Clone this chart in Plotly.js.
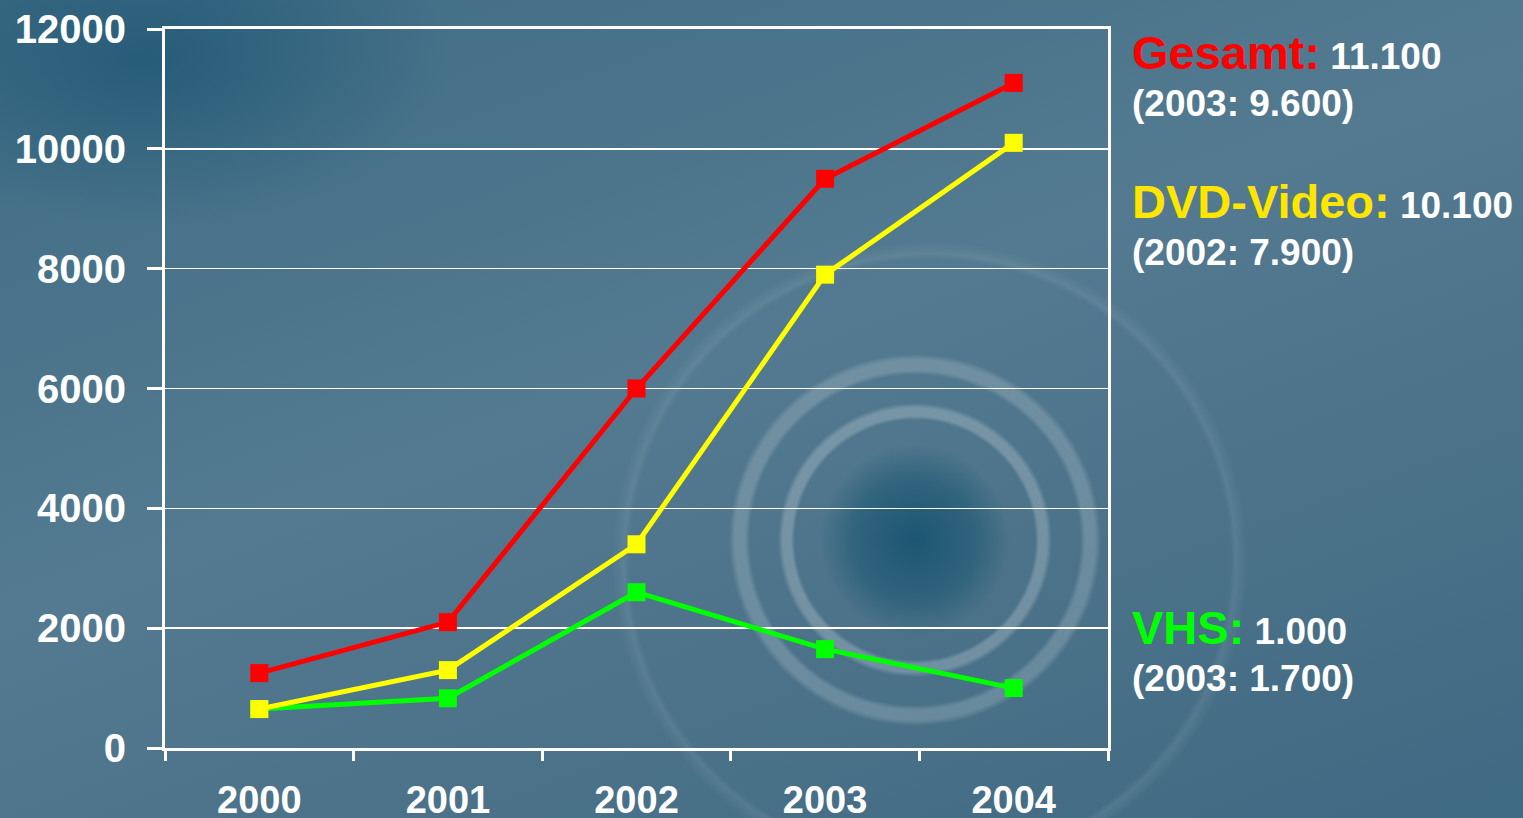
<!DOCTYPE html>
<html>
<head>
<meta charset="utf-8">
<script src="https://cdn.plot.ly/plotly-3.0.1.min.js"></script>
<style>
html,body{margin:0;padding:0;width:1523px;height:818px;overflow:hidden;}
body{
 background:
  radial-gradient(circle at 915px 540px, rgba(20,80,110,0.85) 0px, rgba(30,88,115,0.6) 60px, rgba(0,0,0,0) 95px),
  radial-gradient(circle at 915px 540px, rgba(0,0,0,0) 120px, rgba(255,255,255,0.22) 124px, rgba(255,255,255,0.22) 132px, rgba(0,0,0,0) 137px),
  radial-gradient(circle at 915px 540px, rgba(0,0,0,0) 165px, rgba(255,255,255,0.18) 170px, rgba(255,255,255,0.18) 180px, rgba(0,0,0,0) 186px),
  radial-gradient(circle at 930px 560px, rgba(0,0,0,0) 300px, rgba(255,255,255,0.08) 306px, rgba(0,0,0,0) 318px),
  radial-gradient(ellipse at 150px 60px, rgba(20,80,110,0.6) 0px, rgba(0,0,0,0) 300px),
  linear-gradient(160deg, #3f6c85 0%, #537a90 45%, #4b7289 70%, #3f6a83 100%);
}
#chart{width:1523px;height:818px;}
</style>
</head>
<body>
<div id="chart"></div>
<script>
var years = ["2000", "2001", "2002", "2003", "2004"];
var gesamt = [1250, 2100, 6000, 9500, 11100];
var dvdVideo = [650, 1300, 3400, 7900, 10100];
var vhs = [650, 830, 2600, 1650, 1000];
var yTicks = [0, 2000, 4000, 6000, 8000, 10000, 12000];

function series(y, color) {
  return {
    x: years, y: y, type: 'scatter', mode: 'lines+markers',
    line: {color: color, width: 5},
    marker: {symbol: 'square', size: 18, color: color},
    hoverinfo: 'skip', showlegend: false
  };
}

var data = [series(vhs, '#00ff00'), series(dvdVideo, '#ffff00'), series(gesamt, '#ff0000')];

var F = 'Liberation Sans, Arial, sans-serif';
function py(pix) { return (748 - pix) / 719; }
var ax = (1130 - 165) / 943;
function ann(text, ypix) {
  return {xref: 'paper', yref: 'paper', x: ax, y: py(ypix), xanchor: 'left', yanchor: 'middle',
    text: text, showarrow: false, align: 'left',
    font: {family: F, size: 37, color: '#ffffff', weight: 'bold'}};
}

var layout = {
  width: 1523, height: 818,
  margin: {l: 165, r: 415, t: 29, b: 70},
  paper_bgcolor: 'rgba(0,0,0,0)', plot_bgcolor: 'rgba(0,0,0,0)',
  font: {family: F, color: '#ffffff', weight: 'bold'},
  xaxis: {
    type: 'category', tickson: 'boundaries', ticks: 'outside', ticklen: 10, tickwidth: 3, tickcolor: '#ffffff',
    showline: true, linecolor: '#ffffff', linewidth: 3, mirror: true, showgrid: false,
    tickfont: {family: F, size: 38, color: '#ffffff', weight: 'bold'}, ticklabelstandoff: 16,
    range: [-0.5, 4.5]
  },
  yaxis: {
    range: [0, 12000], tickvals: yTicks, ticktext: yTicks.map(String),
    ticks: 'outside', ticklen: 15, tickwidth: 3, tickcolor: '#ffffff',
    showline: true, linecolor: '#ffffff', linewidth: 3, mirror: true,
    showgrid: true, gridcolor: '#ffffff', gridwidth: 1.5, zeroline: false,
    tickfont: {family: F, size: 40, color: '#ffffff', weight: 'bold'}, ticklabelstandoff: 13
  },
  annotations: [
    ann('<span style="color:#ff0000;font-size:47px">Gesamt:</span> 11.100', 52),
    ann('(2003: 9.600)', 103),
    ann('<span style="color:#ffe600;font-size:47px">DVD-Video:</span> 10.100', 201),
    ann('(2002: 7.900)', 252),
    ann('<span style="color:#00ff00;font-size:47px">VHS:</span> 1.000', 627),
    ann('(2003: 1.700)', 678)
  ]
};

Plotly.newPlot('chart', data, layout, {displayModeBar: false, staticPlot: true});
</script>
</body>
</html>
